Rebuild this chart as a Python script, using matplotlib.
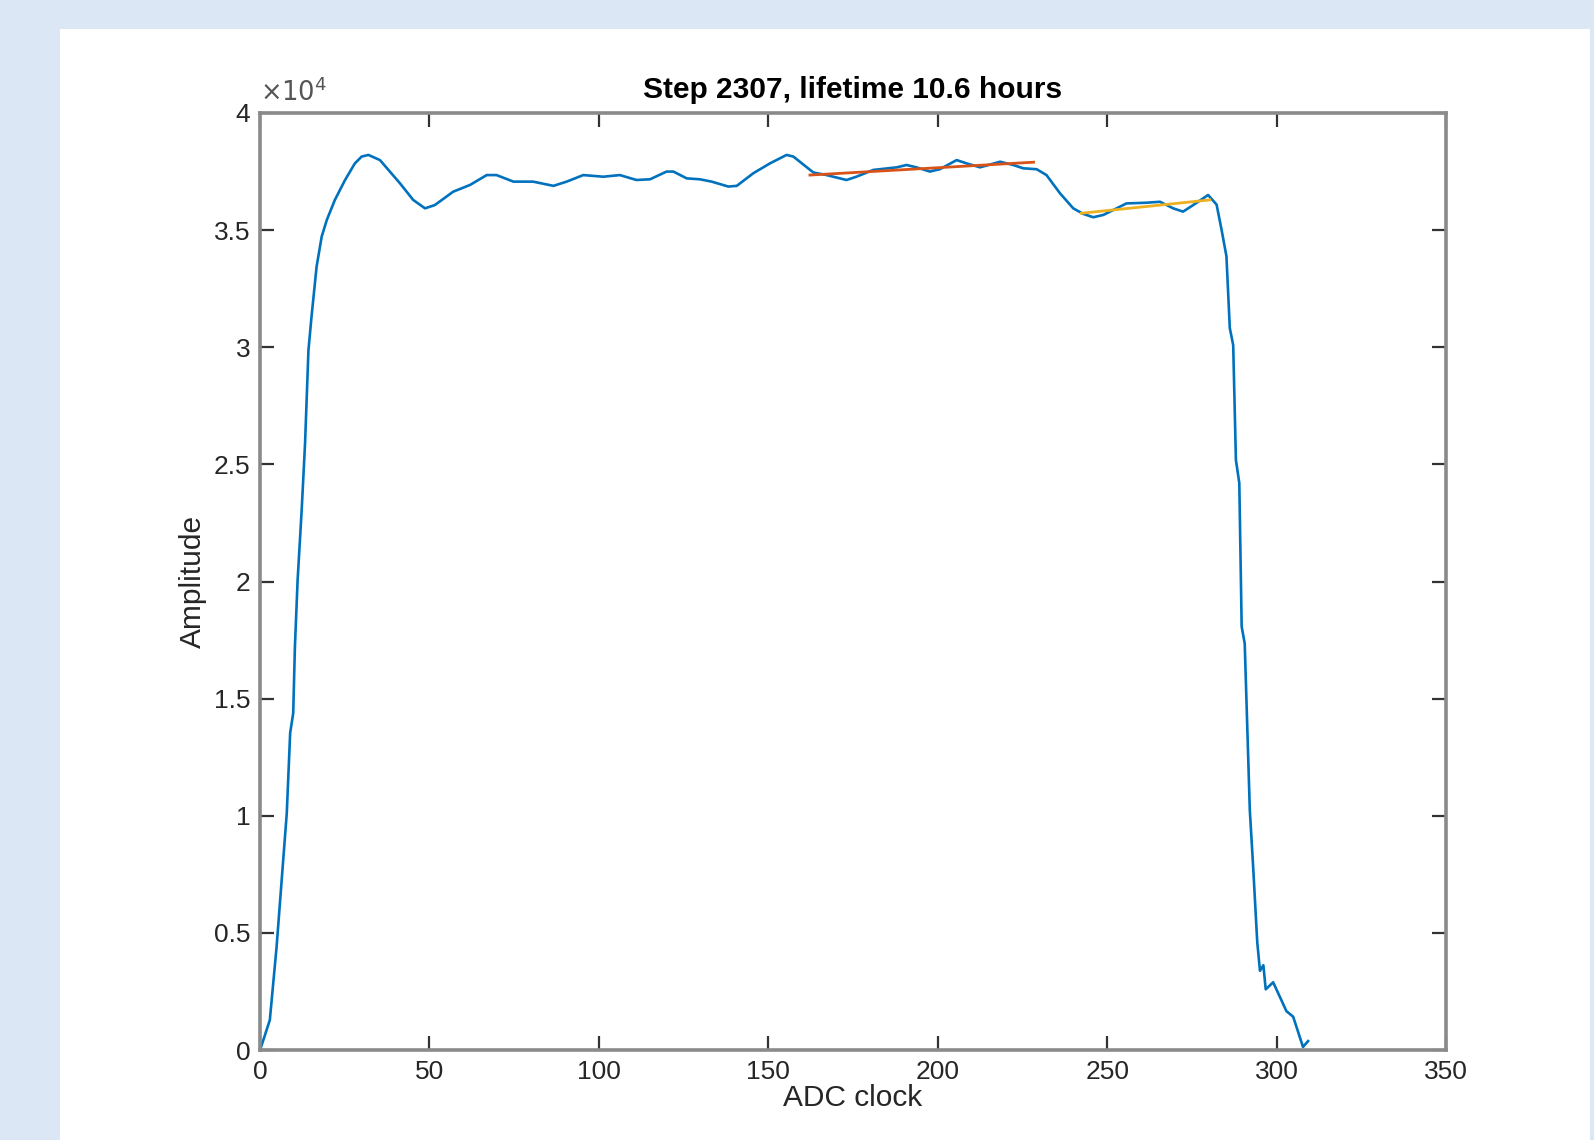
import matplotlib.pyplot as plt
from matplotlib.patches import Rectangle

# ADC waveform
adc_clock = [0, 0.5, 2.9, 4.9, 6.4, 7.9, 8.9, 9.8, 10.3, 11.1, 12.3, 13.3, 14.3, 15.2,
             16.7, 18.2, 19.7, 22.1, 25.1, 28.0, 30.0, 32.0, 35.4, 41.3, 45.2, 48.7,
             51.6, 57.0, 62.0, 66.9, 69.8, 74.8, 80.6, 86.6, 90.5, 95.4, 101.3, 106.2,
             111.1, 115.1, 120.0, 122.0, 125.9, 129.8, 133.3, 138.2, 140.7, 145.6,
             150.5, 155.4, 157.4, 163.3, 167.2, 173.1, 176.0, 181.0, 187.9, 190.8,
             193.7, 197.7, 200.6, 205.6, 208.5, 212.5, 218.4, 222.3, 225.2, 229.2,
             232.1, 236.1, 240.0, 243.0, 245.9, 248.9, 252.8, 255.7, 261.6, 265.6,
             269.5, 272.4, 275.4, 279.8, 282.3, 283.8, 285.2, 286.2, 287.2, 288.0,
             289.0, 289.7, 290.6, 292.1, 293.1, 294.3, 295.1, 296.1, 296.8, 299.0,
             302.9, 304.9, 307.8, 309.3]
amplitude = [0, 210, 1280, 4410, 7260, 10110, 13530, 14380, 17200, 20060, 23050, 25910,
             29880, 31300, 33440, 34720, 35430, 36290, 37140, 37850, 38140, 38210,
             37990, 37000, 36290, 35930, 36070, 36640, 36930, 37350, 37350, 37070,
             37070, 36890, 37070, 37350, 37280, 37350, 37140, 37170, 37500, 37500,
             37210, 37170, 37070, 36860, 36890, 37430, 37850, 38210, 38140, 37460,
             37350, 37140, 37280, 37570, 37680, 37780, 37680, 37500, 37600, 37990,
             37850, 37680, 37920, 37780, 37640, 37600, 37350, 36570, 35930, 35690,
             35550, 35650, 35930, 36140, 36170, 36210, 35930, 35790, 36070, 36500,
             36090, 34990, 33890, 30820, 30090, 25190, 24200, 18080, 17350, 10250,
             7790, 4600, 3380, 3620, 2590, 2890, 1660, 1420, 130, 380]

# linear fits
fit1_x = [162.3, 228.3]
fit1_y = [37350, 37900]
fit2_x = [242.4, 280.3]
fit2_y = [35720, 36290]

x_ticks = [0, 50, 100, 150, 200, 250, 300, 350]
y_ticks = [0, 5000, 10000, 15000, 20000, 25000, 30000, 35000, 40000]
y_tick_labels = ["0", "0.5", "1", "1.5", "2", "2.5", "3", "3.5", "4"]

plt.rcParams["font.family"] = ["Liberation Sans", "DejaVu Sans"]

fig = plt.figure(figsize=(15.94, 11.4), dpi=100, facecolor="#dbe7f5")
fig.patches.append(Rectangle((60 / 1594, 0), (1590 - 60) / 1594, (1140 - 29) / 1140,
                             transform=fig.transFigure, facecolor="white",
                             edgecolor="none", zorder=-10))

ax = fig.add_axes([260 / 1594, 1 - 1050 / 1140, (1446 - 260) / 1594, (1050 - 113) / 1140])
ax.set_zorder(5)
ax.plot(adc_clock, amplitude, color="#0072BD", lw=1.9)
ax.plot(fit1_x, fit1_y, color="#D95319", lw=2.0)
ax.plot(fit2_x, fit2_y, color="#EDB120", lw=2.0)

ax.set_xlim(0, 350)
ax.set_ylim(0, 40000)
ax.set_xticks(x_ticks)
ax.set_yticks(y_ticks)
ax.set_yticklabels(y_tick_labels)

for s in ax.spines.values():
    s.set_color("#8a8a8a")
    s.set_linewidth(2.6)
ax.tick_params(direction="in", length=10, width=1.6, color="#333333",
               top=True, right=True, labelsize=19, labelcolor="#262626", pad=7)

ax.set_xlabel("ADC clock", fontsize=21.5, color="#262626", labelpad=0)
ax.set_ylabel("Amplitude", fontsize=21.5, color="#262626", labelpad=5)
ax.set_title("Step 2307, lifetime 10.6 hours", fontsize=21.5, fontweight="bold",
             color="black", pad=11)
ax.text(0.0, 1.008, r"$\times10^{4}$", transform=ax.transAxes, fontsize=18.5,
        color="#555555", ha="left", va="bottom")

fig.savefig("out.png", dpi=100, facecolor=fig.get_facecolor())
